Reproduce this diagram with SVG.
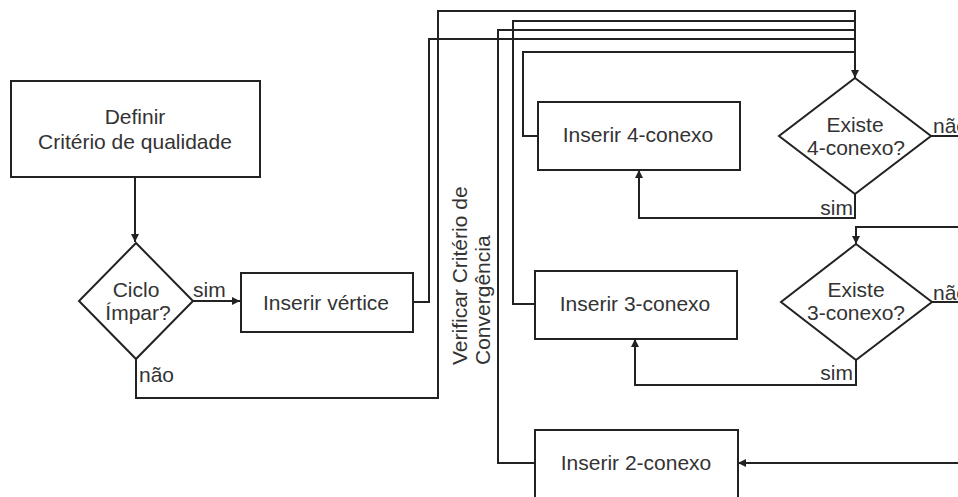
<svg xmlns="http://www.w3.org/2000/svg" width="958" height="497" viewBox="0 0 958 497">
<style>
.box{fill:#fff;stroke:#222;stroke-width:2}
.ln{fill:none;stroke:#222;stroke-width:2}
.t{font-family:"Liberation Sans",Arial,sans-serif;font-size:21px;fill:#333;text-anchor:middle}
.l{font-family:"Liberation Sans",Arial,sans-serif;font-size:21px;fill:#333}
</style>
<defs>
<marker id="arr" viewBox="0 0 10 10" refX="10" refY="5" markerWidth="4" markerHeight="4" orient="auto" markerUnits="strokeWidth">
<path d="M0,0 L10,5 L0,10 z" fill="#222"/>
</marker>
</defs>
<rect width="958" height="497" fill="#fff"/>
<g id="connectors">
<path class="ln" d="M135,177 V242" marker-end="url(#arr)"/>
<path class="ln" d="M193,301 H240" marker-end="url(#arr)"/>
<path class="ln" d="M136,359 V398 H438 V11 H855 V78" marker-end="url(#arr)"/>
<path class="ln" d="M413,302 H429 V39 H855"/>
<path class="ln" d="M538,136 H523 V52 H855"/>
<path class="ln" d="M535,304 H513 V21 H855"/>
<path class="ln" d="M535,463 H498 V30 H855"/>
<path class="ln" d="M855,194 V218 H639 V170" marker-end="url(#arr)"/>
<path class="ln" d="M856,360 V385 H635 V339" marker-end="url(#arr)"/>
<path class="ln" d="M931,136 H958"/>
<path class="ln" d="M958,227 H856 V244" marker-end="url(#arr)"/>
<path class="ln" d="M932,302 H958"/>
<path class="ln" d="M958,463 H738" marker-end="url(#arr)"/>
</g>
<g id="definir">
<rect class="box" x="11" y="81" width="249" height="96"/>
<text class="t" x="135" y="124">Definir</text>
<text class="t" x="135" y="149">Critério de qualidade</text>
</g>
<g id="ciclo">
<polygon class="box" points="136,243 193,301 136,359 79,301"/>
<text class="t" x="136" y="297">Ciclo</text>
<text class="t" x="138" y="320">Ímpar?</text>
<text class="l" x="193" y="297">sim</text>
<text class="l" x="139" y="382">não</text>
</g>
<g id="inserir-vertice">
<rect class="box" x="241" y="273" width="172" height="59"/>
<text class="t" x="326" y="310">Inserir vértice</text>
</g>
<g id="verificar">
<text class="l" transform="translate(467,365) rotate(-90)">Verificar Critério de</text>
<text class="l" transform="translate(490,365) rotate(-90)">Convergência</text>
</g>
<g id="inserir-4">
<rect class="box" x="538" y="102" width="202" height="68"/>
<text class="t" x="638" y="142">Inserir 4-conexo</text>
</g>
<g id="inserir-3">
<rect class="box" x="535" y="271" width="202" height="68"/>
<text class="t" x="635" y="311">Inserir 3-conexo</text>
</g>
<g id="inserir-2">
<rect class="box" x="535" y="430" width="203" height="75"/>
<text class="t" x="636" y="470">Inserir 2-conexo</text>
</g>
<g id="existe-4">
<polygon class="box" points="855,78 931,136 855,194 779,136"/>
<text class="t" x="855" y="132">Existe</text>
<text class="t" x="856" y="155">4-conexo?</text>
<text class="l" x="933" y="133">não</text>
<text class="l" x="853" y="215" text-anchor="end">sim</text>
</g>
<g id="existe-3">
<polygon class="box" points="856,244 932,302 856,360 781,302"/>
<text class="t" x="856" y="297">Existe</text>
<text class="t" x="856" y="320">3-conexo?</text>
<text class="l" x="933" y="300">não</text>
<text class="l" x="853" y="380" text-anchor="end">sim</text>
</g>
</svg>
